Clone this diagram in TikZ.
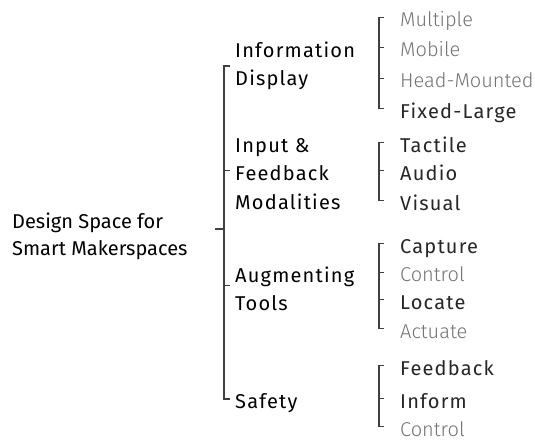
\documentclass[tikz,border=0pt]{standalone}
\usepackage{fontspec}
\setmainfont{Fira Sans}
\newfontfamily\lightfont{Fira Sans Light}
\newfontfamily\widefont{Fira Sans}[LetterSpace=6]

% bracket at x-coordinate #1 from item #2 down to item #3, with ticks at items #4
\newcommand\groupbar[4]{%
  \path (#1 |- #2.base) ++(0,-9.5) coordinate (bt)
        (#1 |- #3.base) ++(0,-9.5) coordinate (bb);
  \draw[bar] ([xshift=5pt]bt) -- (bt) -- (bb) -- ([xshift=5pt]bb);
  \foreach \lbl in {#4} {
    \path (#1 |- \lbl.base) ++(0,-9.5) coordinate (bm);
    \draw[bar] (bm) -- ++(5,0);
  }%
}

\begin{document}
\begin{tikzpicture}[x=1pt, y=-1pt,
    every node/.style={inner sep=0pt, anchor=base west, align=left},
    rootlabel/.style={font=\fontsize{20}{27}\selectfont, text=black},
    grouplabel/.style={font=\widefont\fontsize{20}{28.5}\selectfont, text=black},
    strong/.style={font=\widefont\fontsize{20}{24}\selectfont, text=black!85},
    weak/.style={font=\lightfont\fontsize{20}{24}\selectfont, text=black!55},
    bar/.style={draw=black!75, line width=1.1pt}]
    \useasboundingbox (0,0) rectangle (535,441);

    % ===== root =====
    \node[rootlabel] (root) at (12,255) {Design Space for\\Smart Makerspaces};

    % ===== groups (placed at the baseline of their last line) =====
    \node[grouplabel] (info) at (235,86) {Information\\Display};
    \node[grouplabel] (input) at (235,209) {Input \&\\Feedback\\Modalities};
    \node[grouplabel] (augment) at (235,310.7) {Augmenting\\Tools};
    \node[grouplabel] (safety) at (235,408) {Safety};

    % ===== items =====
    \node[weak] (multiple) at (400,26.7) {Multiple};
    \node[weak] (mobile) at (400,56.7) {Mobile};
    \node[weak] (headmounted) at (400,88) {Head-Mounted};
    \node[strong] (fixedlarge) at (400,118) {Fixed-Large};

    \node[strong] (tactile) at (400,152) {Tactile};
    \node[strong] (audio) at (400,180) {Audio};
    \node[strong] (visual) at (400,210) {Visual};

    \node[strong] (capture) at (400,253) {Capture};
    \node[weak] (controltool) at (400,281.7) {Control};
    \node[strong] (locate) at (400,309) {Locate};
    \node[weak] (actuate) at (400,338) {Actuate};

    \node[strong] (feedback) at (400,375) {Feedback};
    \node[strong] (inform) at (400,408) {Inform};
    \node[weak] (controlsafe) at (400,436) {Control};

    % ===== main bracket =====
    \coordinate (mainbar) at (224,0);
    \coordinate (roottick) at (215,229);
    \path (mainbar |- info.base) ++(0,-20) coordinate (maintop)
          (mainbar |- safety.base) ++(0,-9) coordinate (mainbot);
    \draw[bar] ([xshift=6pt]maintop) -- (maintop) -- (mainbot) -- ([xshift=6pt]mainbot);
    \draw[bar] (roottick) -- (mainbar |- roottick);
    \foreach \grp in {input, augment} {
        \path (mainbar |- \grp.west) ++(0,-3) coordinate (mt);
        \draw[bar] (mt) -- ++(6,0);
    }

    % ===== item brackets =====
    \coordinate (itembar) at (379,0);
    \groupbar{itembar}{multiple}{fixedlarge}{mobile, headmounted}
    \groupbar{itembar}{tactile}{visual}{audio}
    \groupbar{itembar}{capture}{actuate}{controltool, locate}
    \groupbar{itembar}{feedback}{controlsafe}{inform}
\end{tikzpicture}
\end{document}
